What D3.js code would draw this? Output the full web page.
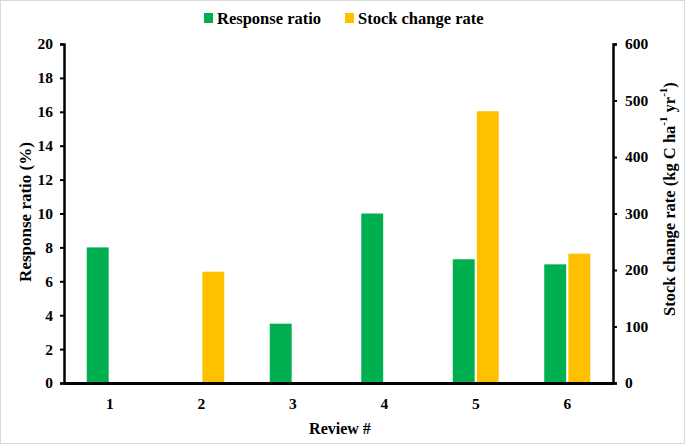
<!DOCTYPE html>
<html>
<head>
<meta charset="utf-8">
<script src="https://cdn.jsdelivr.net/npm/d3@7"></script>
<style>
  body { margin: 0; background: #fff; }
  text { font-family: "Liberation Serif", "Times New Roman", serif; font-weight: bold; }
</style>
</head>
<body>
<svg id="chart" width="685" height="446"></svg>
<script>
// data
const reviews = ['1', '2', '3', '4', '5', '6'];
const responseRatio = [8, null, 3.5, 10, 7.3, 7];      // %
const stockChangeRate = [null, 197, null, null, 481, 229]; // kg C ha-1 yr-1
const leftTicks = [0, 2, 4, 6, 8, 10, 12, 14, 16, 18, 20];
const rightTicks = [0, 100, 200, 300, 400, 500, 600];

const green = '#00b050';
const yellow = '#ffc000';

const svg = d3.select('#chart');
const plotLeft = 64, plotRight = 613, plotTop = 44, plotBottom = 383;

// frame
svg.append('rect')
  .attr('x', 0.5).attr('y', 0.5).attr('width', 684).attr('height', 443)
  .attr('fill', 'none').attr('stroke', '#d9d9d9');

const x = d3.scaleBand().domain(reviews).range([plotLeft, plotRight]);
const inner = d3.scaleBand().domain(['rr', 'scr'])
  .range([x.bandwidth() / 2 - 23, x.bandwidth() / 2 + 23]).paddingInner(0.09);
const yL = d3.scaleLinear().domain([0, 20]).range([plotBottom, plotTop]);
const yR = d3.scaleLinear().domain([0, 600]).range([plotBottom, plotTop]);

// bars
svg.append('g').selectAll('rect')
  .data(reviews.map((r, i) => ({ r, v: responseRatio[i] })).filter(d => d.v != null))
  .join('rect')
  .attr('x', d => x(d.r) + inner('rr'))
  .attr('width', inner.bandwidth())
  .attr('y', d => yL(d.v))
  .attr('height', d => yL(0) - yL(d.v))
  .attr('fill', green);

svg.append('g').selectAll('rect')
  .data(reviews.map((r, i) => ({ r, v: stockChangeRate[i] })).filter(d => d.v != null))
  .join('rect')
  .attr('x', d => x(d.r) + inner('scr'))
  .attr('width', inner.bandwidth())
  .attr('y', d => yR(d.v))
  .attr('height', d => yR(0) - yR(d.v))
  .attr('fill', yellow);

// axes
const gL = svg.append('g').attr('transform', `translate(${plotLeft},0)`)
  .call(d3.axisLeft(yL).tickValues(leftTicks).tickSize(4).tickPadding(7));
const gR = svg.append('g').attr('transform', `translate(${plotRight},0)`)
  .call(d3.axisRight(yR).tickValues(rightTicks).tickSize(4).tickPadding(8));
[gL, gR].forEach(g => {
  g.select('.domain').attr('stroke', '#000').attr('stroke-width', 2.5);
  g.selectAll('.tick line').attr('stroke', '#000').attr('stroke-width', 2);
  g.selectAll('.tick text').attr('fill', '#000').style('font-size', '15.5px');
});

const gX = svg.append('g').attr('transform', `translate(0,${plotBottom})`)
  .call(d3.axisBottom(x).tickSize(0).tickPadding(15));
gX.select('.domain').attr('stroke', '#000').attr('stroke-width', 3);
gX.selectAll('.tick text').attr('fill', '#000').style('font-size', '15.5px');

// axis titles
svg.append('text')
  .attr('transform', 'translate(25,212) rotate(-90)')
  .attr('text-anchor', 'middle').attr('dominant-baseline', 'central')
  .style('font-size', '17px').text('Response ratio (%)');

const rt = svg.append('text')
  .attr('transform', 'translate(669,199) rotate(-90)')
  .attr('text-anchor', 'middle').attr('dominant-baseline', 'central')
  .style('font-size', '16.5px');
rt.append('tspan').text('Stock change rate (kg C ha');
rt.append('tspan').attr('dy', -6).style('font-size', '11px').text('-1');
rt.append('tspan').attr('dy', 6).text(' yr');
rt.append('tspan').attr('dy', -6).style('font-size', '11px').text('-1');
rt.append('tspan').attr('dy', 6).text(')');

svg.append('text')
  .attr('x', 340).attr('y', 428)
  .attr('text-anchor', 'middle').attr('dominant-baseline', 'central')
  .style('font-size', '16px').text('Review #');

// legend
const legend = [
  { label: 'Response ratio', color: green, x: 204 },
  { label: 'Stock change rate', color: yellow, x: 345 }
];
const lg = svg.append('g').selectAll('g').data(legend).join('g')
  .attr('transform', d => `translate(${d.x},18)`);
lg.append('rect').attr('x', 0).attr('y', -5).attr('width', 9).attr('height', 10)
  .attr('fill', d => d.color);
lg.append('text').attr('x', 13).attr('y', 0).attr('dominant-baseline', 'central')
  .style('font-size', '16.5px').text(d => d.label);
</script>
</body>
</html>
